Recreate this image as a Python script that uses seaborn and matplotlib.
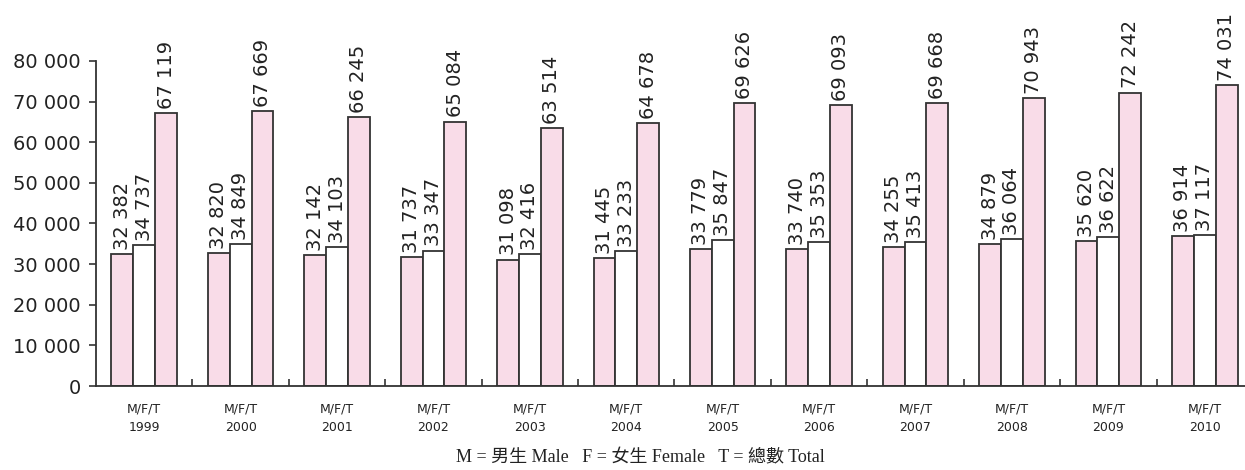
import seaborn as sns
import matplotlib.pyplot as plt
import matplotlib.ticker as mticker
import pandas as pd

# data
years = ['1999', '2000', '2001', '2002', '2003', '2004',
         '2005', '2006', '2007', '2008', '2009', '2010']
male = [32382, 32820, 32142, 31737, 31098, 31445, 33779, 33740, 34255, 34879, 35620, 36914]
female = [34737, 34849, 34103, 33347, 32416, 33233, 35847, 35353, 35413, 36064, 36622, 37117]
total = [67119, 67669, 66245, 65084, 63514, 64678, 69626, 69093, 69668, 70943, 72242, 74031]
groups = ['M', 'F', 'T']
caption = 'M = 男生 Male   F = 女生 Female   T = 總數 Total'

rows = []
for i, y in enumerate(years):
    rows.append((y, 'M', male[i]))
    rows.append((y, 'F', female[i]))
    rows.append((y, 'T', total[i]))
df = pd.DataFrame(rows, columns=['year', 'group', 'count'])

sns.set_theme(style='white')
plt.rcParams['font.family'] = ['DejaVu Sans']

pink = '#f9dce8'
palette = {'M': pink, 'F': 'white', 'T': pink}

fig = plt.figure(figsize=(12.45, 4.70), dpi=100)
ax = fig.add_axes([96 / 1245, 1 - 386 / 470, (1253 - 96) / 1245, 325 / 470])

sns.barplot(data=df, x='year', y='count', hue='group', hue_order=groups,
            palette=palette, width=0.68, gap=0, edgecolor='#333333',
            linewidth=1.3, saturation=1, legend=False, ax=ax)

def fmt(v):
    return '{:,}'.format(int(v)).replace(',', ' ')

for cont in ax.containers:
    ax.bar_label(cont, labels=[fmt(b.get_height()) for b in cont],
                 rotation=90, padding=3, fontsize=14, color='#222222')

ax.set_ylim(0, 80000)
ax.set_xlim(-0.5, len(years) - 0.5)
ax.yaxis.set_major_locator(mticker.MultipleLocator(10000))
ax.yaxis.set_major_formatter(mticker.FuncFormatter(lambda v, p: fmt(v)))
ax.tick_params(axis='y', labelsize=14, length=5, width=1.2, direction='out',
               pad=6, colors='#333333', labelcolor='#222222', left=True)

ax.set_xticks(range(len(years)))
ax.set_xticklabels(['M/F/T\n' + y for y in years], fontsize=9,
                   linespacing=1.5, color='#222222')
ax.tick_params(axis='x', length=0, pad=12)
ax.set_xticks([i + 0.5 for i in range(len(years) - 1)], minor=True)
ax.tick_params(axis='x', which='minor', length=5, width=1.2, direction='in',
               bottom=True, color='#333333')

ax.set_xlabel('')
ax.set_ylabel('')
sns.despine(ax=ax, top=True, right=True)
for s in ['left', 'bottom']:
    ax.spines[s].set_color('#333333')
    ax.spines[s].set_linewidth(1.3)

fig.text(0.514, 0.026, caption, ha='center', va='center', fontsize=13,
         family=['Liberation Serif', 'Noto Sans CJK TC'], color='#222222')

plt.savefig('out.png', dpi=100)
